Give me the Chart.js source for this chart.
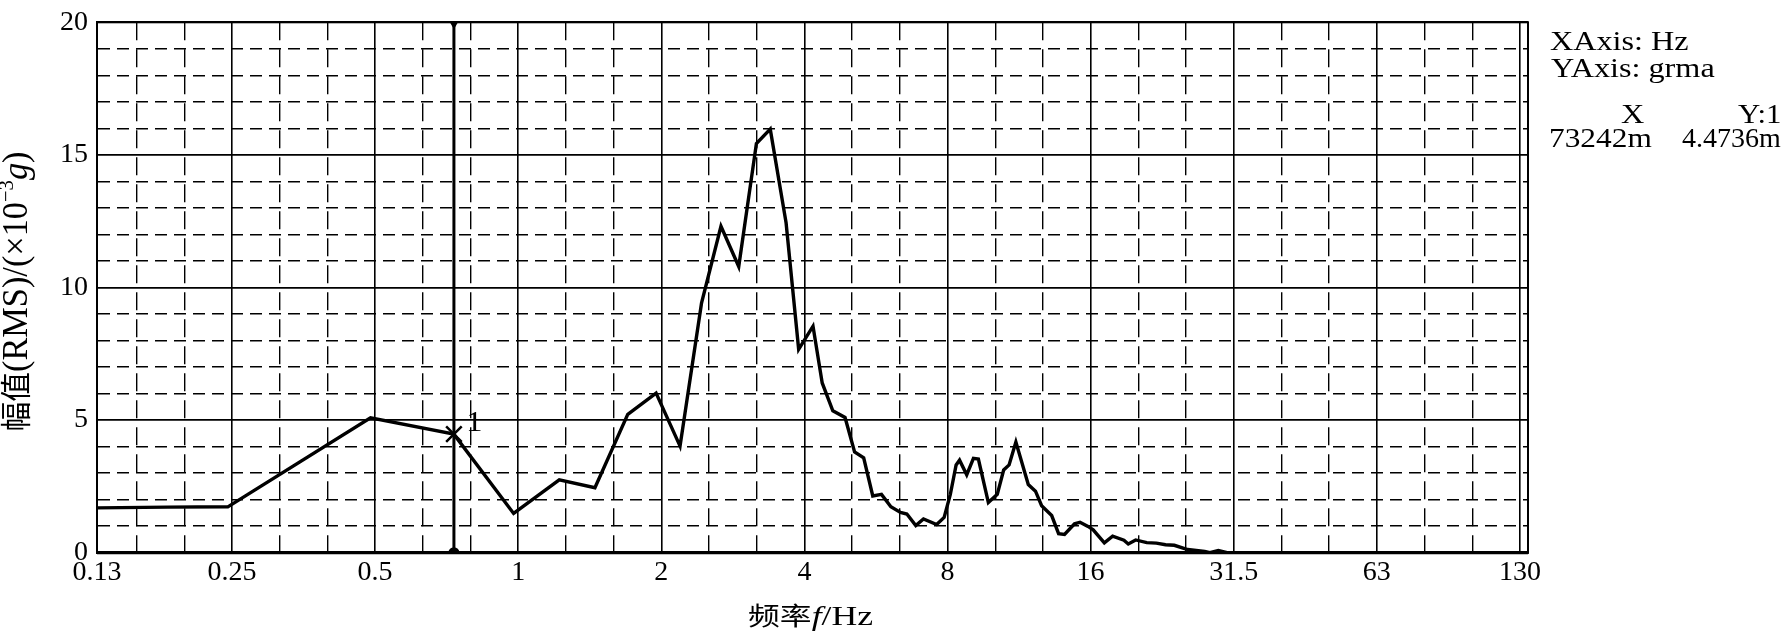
<!DOCTYPE html>
<html lang="zh">
<head>
    <meta charset="UTF-8">
    <title>幅值频谱</title>
    <script src="https://cdn.jsdelivr.net/npm/chart.js"></script>
    <style>
        html, body { margin: 0; padding: 0; background: #fff; }
        #box { width: 1781px; height: 632px; }
    </style>
</head>
<body>
<div id="box"><canvas id="spectrum"></canvas></div>
<script>
    // spectrum: frequency in Hz, amplitude in 10^-3 g (RMS)
    const freqHz = [0.13, 0.183, 0.245, 0.489, 0.732, 0.978, 1.22, 1.45, 1.70, 1.95,
                    2.19, 2.43, 2.67, 2.91, 3.17, 3.39, 3.66, 3.89, 4.17, 4.36,
                    4.59, 4.87, 5.10, 5.33, 5.57, 5.81, 6.08, 6.37, 6.57, 6.86,
                    7.12, 7.59, 7.87, 8.11, 8.34, 8.48, 8.78, 9.07, 9.29, 9.75,
                    10.18, 10.5, 10.78, 11.14, 11.83, 12.25, 12.62, 13.25, 13.7, 14.1,
                    14.8, 15.2, 15.8, 16.2, 17.1, 17.8, 18.8, 19.2, 19.9, 21.0,
                    22.0, 23.0, 24.0, 25.6, 27.8, 28.5, 29.7, 31.0, 128];
    const ampRms = [1.69, 1.72, 1.73, 5.09, 4.47, 1.48, 2.75, 2.45, 5.22, 6.02,
                    4.02, 9.41, 12.31, 10.79, 15.43, 15.97, 12.44, 7.67, 8.54, 6.40,
                    5.35, 5.10, 3.80, 3.58, 2.14, 2.20, 1.73, 1.52, 1.46, 1.02,
                    1.27, 1.06, 1.33, 2.20, 3.31, 3.49, 2.94, 3.56, 3.53, 1.89,
                    2.20, 3.12, 3.31, 4.17, 2.57, 2.32, 1.77, 1.40, 0.72, 0.69,
                    1.09, 1.15, 0.99, 0.86, 0.37, 0.62, 0.47, 0.33, 0.48, 0.38,
                    0.36, 0.30, 0.28, 0.12, 0.05, 0.00, 0.08, 0.00, 0.00];

    // cursor 1
    const cursorX = 0.73242;
    const cursorY = 4.4736;
    const readout = ['XAxis: Hz', 'YAxis: grma', 'X', 'Y:1', '73242m', '4.4736m'];

    // x axis: octave lines with labels, 1/3 octave dashed lines between
    const octaveTicks  = [0.13, 0.25, 0.5, 1, 2, 4, 8, 16, 32, 64, 128];
    const octaveLabels = ['0.13', '0.25', '0.5', '1', '2', '4', '8', '16', '31.5', '63', '130'];
    const xMin = 0.13, xMax = 133.1;
    const yMin = 0, yMax = 20, yMajor = 5;

    const SERIF = '"Liberation Serif", "Times New Roman", serif';
    const CJK = '"Noto Sans CJK SC", sans-serif';

    const xGrid = [];
    octaveTicks.forEach((f, i) => {
        xGrid.push({value: f, label: octaveLabels[i], major: true});
        if (i < octaveTicks.length - 1) {
            const base = i === 0 ? 0.125 : f;
            xGrid.push({value: base * Math.cbrt(2), label: '', major: false});
            xGrid.push({value: base * Math.cbrt(4), label: '', major: false});
        }
    });

    // draws a run of differently styled text pieces, returns the unscaled width
    function textRun(ctx, parts, measureOnly) {
        let w = 0;
        parts.forEach(p => { ctx.font = p[1]; w += ctx.measureText(p[0]).width; });
        if (measureOnly) return w;
        let cx = -w / 2;
        ctx.textAlign = 'left';
        ctx.textBaseline = 'alphabetic';
        parts.forEach(p => {
            ctx.font = p[1];
            ctx.fillText(p[0], cx, p[2] || 0);
            cx += ctx.measureText(p[0]).width;
        });
        return w;
    }

    function plainText(ctx, text, x, y, size, sx) {
        ctx.save();
        ctx.translate(x, y);
        ctx.scale(sx, 1);
        ctx.font = size + 'px ' + SERIF;
        ctx.textAlign = 'left';
        ctx.textBaseline = 'alphabetic';
        ctx.fillText(text, 0, 0);
        ctx.restore();
    }

    const decor = {
        id: 'decor',
        afterDraw(chart) {
            const {ctx, chartArea: a, scales: {x, y}} = chart;
            ctx.save();
            ctx.strokeStyle = '#000';
            ctx.fillStyle = '#000';

            // frame
            ctx.lineWidth = 2;
            ctx.strokeRect(a.left, a.top, a.right - a.left, a.bottom - a.top);
            ctx.lineWidth = 3;
            ctx.beginPath();
            ctx.moveTo(a.left, a.bottom);
            ctx.lineTo(a.right, a.bottom);
            ctx.stroke();

            // cursor number
            plainText(ctx, '1', x.getPixelForValue(cursorX) + 12, y.getPixelForValue(cursorY) - 3, 30, 1.1);

            // x title
            const xParts = [['频率', '25px ' + CJK], ['f', 'italic 28px ' + SERIF], ['/Hz', '28px ' + SERIF]];
            let w = textRun(ctx, xParts, true);
            ctx.save();
            ctx.translate((a.left + a.right) / 2 - 2, 625);
            ctx.scale(125 / w, 1);
            textRun(ctx, xParts);
            ctx.restore();

            // y title
            const yParts = [['幅值', '26px ' + CJK], ['(RMS)/(×10', '30px ' + SERIF],
                            ['−3', '18px ' + SERIF, -12], ['g', 'italic 30px ' + SERIF], [')', '30px ' + SERIF]];
            w = textRun(ctx, yParts, true);
            ctx.save();
            ctx.translate(27, (a.top + a.bottom) / 2 + 4);
            ctx.rotate(-Math.PI / 2);
            ctx.scale(280 / w, 1.2);
            textRun(ctx, yParts);
            ctx.restore();

            // cursor readout
            plainText(ctx, readout[0], 1550, 50, 28, 1.15);
            plainText(ctx, readout[1], 1551, 77, 28, 1.15);
            plainText(ctx, readout[2], 1621, 123, 28, 1.15);
            plainText(ctx, readout[3], 1738, 123, 28, 1.1);
            plainText(ctx, readout[4], 1549, 147, 28, 1.12);
            plainText(ctx, readout[5], 1682, 147, 28, 1.0);
            ctx.restore();
        }
    };

    const ctx = document.getElementById('spectrum').getContext('2d');
    new Chart(ctx, {
        type: 'line',
        data: {
            datasets: [
                {
                    label: 'marker',
                    data: [{x: cursorX, y: cursorY}],
                    showLine: false,
                    pointStyle: 'crossRot',
                    pointRadius: 11,
                    pointBorderWidth: 2.5,
                    borderColor: '#000',
                    order: 0
                },
                {
                    label: 'cursor',
                    data: [{x: cursorX, y: yMin}, {x: cursorX, y: yMax}],
                    borderColor: '#000',
                    backgroundColor: '#000',
                    borderWidth: 3,
                    pointStyle: ['circle', 'triangle'],
                    pointRotation: [0, 180],
                    pointRadius: 4,
                    order: 1
                },
                {
                    label: 'RMS',
                    data: freqHz.map((f, i) => ({x: f, y: ampRms[i]})),
                    borderColor: '#000',
                    borderWidth: 3.4,
                    pointRadius: 0,
                    tension: 0,
                    order: 2
                }
            ]
        },
        options: {
            responsive: true,
            maintainAspectRatio: false,
            animation: false,
            events: [],
            layout: { padding: { top: 13.5, right: 253, bottom: 0, left: 0 } },
            plugins: { legend: { display: false }, tooltip: { enabled: false } },
            scales: {
                x: {
                    type: 'logarithmic',
                    min: xMin,
                    max: xMax,
                    afterBuildTicks: s => { s.ticks = xGrid.map(g => ({value: g.value, major: g.major})); },
                    afterFit: s => { s.height = 79.3; },
                    ticks: {
                        autoSkip: false,
                        maxRotation: 0,
                        padding: 3,
                        color: '#000',
                        font: { family: SERIF, size: 28 },
                        callback: (v, i) => xGrid[i] ? xGrid[i].label : ''
                    },
                    grid: {
                        color: '#000',
                        drawTicks: false,
                        lineWidth: c => c.tick && c.tick.major ? 1.6 : 1.4
                    },
                    border: {
                        color: '#000',
                        width: 3,
                        dash: c => c.tick && !c.tick.major ? [18, 9] : []
                    }
                },
                y: {
                    min: yMin,
                    max: yMax,
                    afterFit: s => { s.width = 97; },
                    ticks: {
                        stepSize: 1,
                        autoSkip: false,
                        padding: 9,
                        color: '#000',
                        font: { family: SERIF, size: 28, lineHeight: 0.95 },
                        callback: v => v % yMajor === 0 ? String(v) : ''
                    },
                    grid: {
                        color: '#000',
                        drawTicks: false,
                        lineWidth: c => c.tick && c.tick.value % yMajor === 0 ? 1.8 : 1.5
                    },
                    border: {
                        color: '#000',
                        width: 2,
                        dash: c => c.tick && c.tick.value % yMajor !== 0 ? [12, 7] : []
                    }
                }
            }
        },
        plugins: [decor]
    });
</script>
</body>
</html>
